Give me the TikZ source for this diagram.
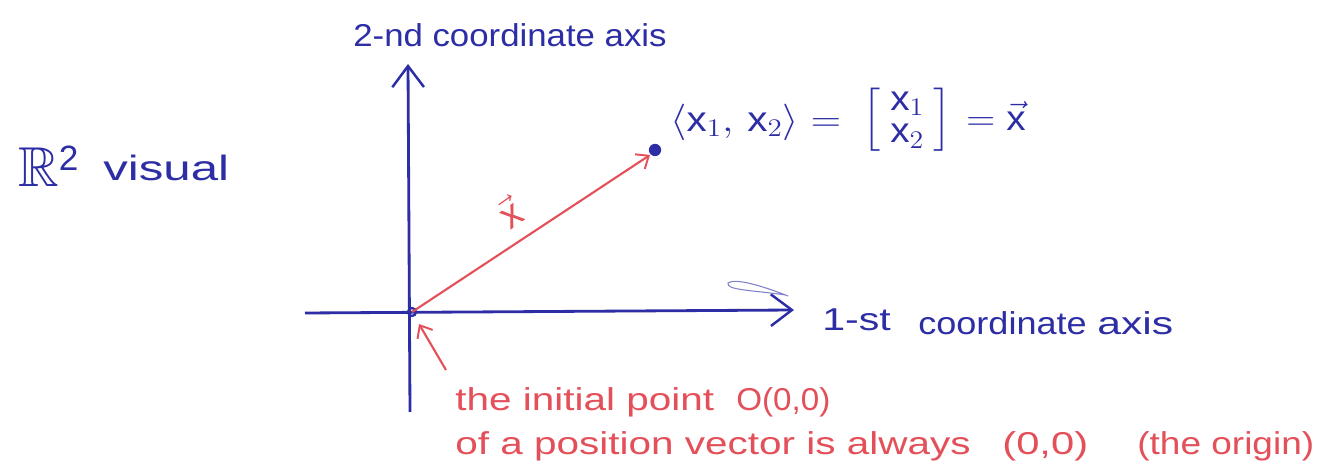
\documentclass[tikz,border=0pt]{standalone}
\usepackage{fontspec}
\usepackage{amsmath,amssymb}
\setmainfont{Liberation Sans}
\usetikzlibrary{arrows.meta}
\definecolor{pen}{RGB}{45,45,165}
\definecolor{redpen}{RGB}{228,80,90}
\tikzset{
  axis/.style={draw=pen, line width=1.6pt, -{Straight Barb[length=12pt,width=18pt,line width=1.4pt]}},
  vec/.style={draw=redpen, line width=1.2pt, -{Straight Barb[length=6pt,width=10pt,line width=1.1pt]}},
  bluetxt/.style={text=pen, font=\fontsize{18pt}{20pt}\selectfont, inner sep=0pt, anchor=west},
  redtxt/.style={text=redpen, font=\fontsize{18pt}{20pt}\selectfont, inner sep=0pt, anchor=west},
}
\newcommand{\hs}[2]{\scalebox{#1}[1]{#2}}
\begin{document}
\begin{tikzpicture}[x=0.02cm, y=-0.02cm]
\useasboundingbox[fill=white] (0,0) rectangle (1323,469);
% axes
\coordinate (vbot) at (410,412);
\coordinate (vtop) at (408,64);
\coordinate (hleft) at (305,313);
\coordinate (hright) at (794,310);
\coordinate (O) at (412,312);
\draw[axis] (vbot) -- (vtop);
\draw[axis] (hleft) -- (hright);
\draw[pen, line width=1.3pt] (O) circle (4);
% stray pen scribble
\draw[pen!60, line width=0.6pt] (788,296) .. controls (760,285) and (735,278) .. (728,283) .. controls (726,290) and (750,290) .. (786,295);
% vector
\coordinate (tip) at (650,155);
\node[circle, fill=pen, inner sep=0pt, minimum size=7pt] (P) at (655,150) {};
\draw[vec] (O) -- (tip);
\node[text=redpen, font=\fontsize{22pt}{24pt}\selectfont, rotate=35] (xl) at (510,212) {$\vec{\textrm{x}}$};
% labels
\node[text=pen, font=\fontsize{32pt}{34pt}\selectfont, inner sep=0pt, anchor=west] (R) at (18,166) {$\mathbb{R}^{\textrm{\fontsize{20pt}{22pt}\selectfont 2}}$};
\node[bluetxt, font=\fontsize{20pt}{22pt}\selectfont] (vis) at (103,168) {\hs{1.4}{visual}};
\node[bluetxt] (ax2) at (353,35) {\hs{1.1}{2-nd coordinate axis}};
\node[bluetxt] (ax1a) at (822,320) {\hs{1.3}{1-st}};
\node[bluetxt] (ax1b) at (918,323) {\hs{1.14}{coordinate}};
\node[bluetxt] (ax1c) at (1097,323) {\hs{1.35}{axis}};
\node[bluetxt, font=\fontsize{20pt}{22pt}\selectfont] (eq) at (670,122) {\hs{1.15}{$\langle \textrm{x}_1,\, \textrm{x}_2\rangle =$}};
\node[bluetxt, font=\fontsize{20pt}{22pt}\selectfont] (mat) at (862,120) {\hs{1.1}{$\renewcommand{\arraystretch}{0.85}\left[\begin{array}{c}\textrm{x}_1\\ \textrm{x}_2\end{array}\right]$}};
\node[bluetxt, font=\fontsize{20pt}{22pt}\selectfont] (eqx) at (966,116) {\hs{1.1}{$= \vec{\textrm{x}}$}};
% annotation
\coordinate (astart) at (446,370);
\coordinate (aend) at (419,324);
\node[redtxt] (t1a) at (455,402) {\hs{1.28}{the initial point}};
\node[redtxt] (t1b) at (736,402) {\hs{1.05}{O(0,0)}};
\node[redtxt] (t2a) at (455,446) {\hs{1.28}{of a position vector is always}};
\node[redtxt] (t2b) at (1002,446) {\hs{1.32}{(0,0)}};
\node[redtxt] (t2c) at (1137,446) {\hs{1.17}{(the origin)}};
\draw[vec] (astart) -- (aend);
\end{tikzpicture}
\end{document}
